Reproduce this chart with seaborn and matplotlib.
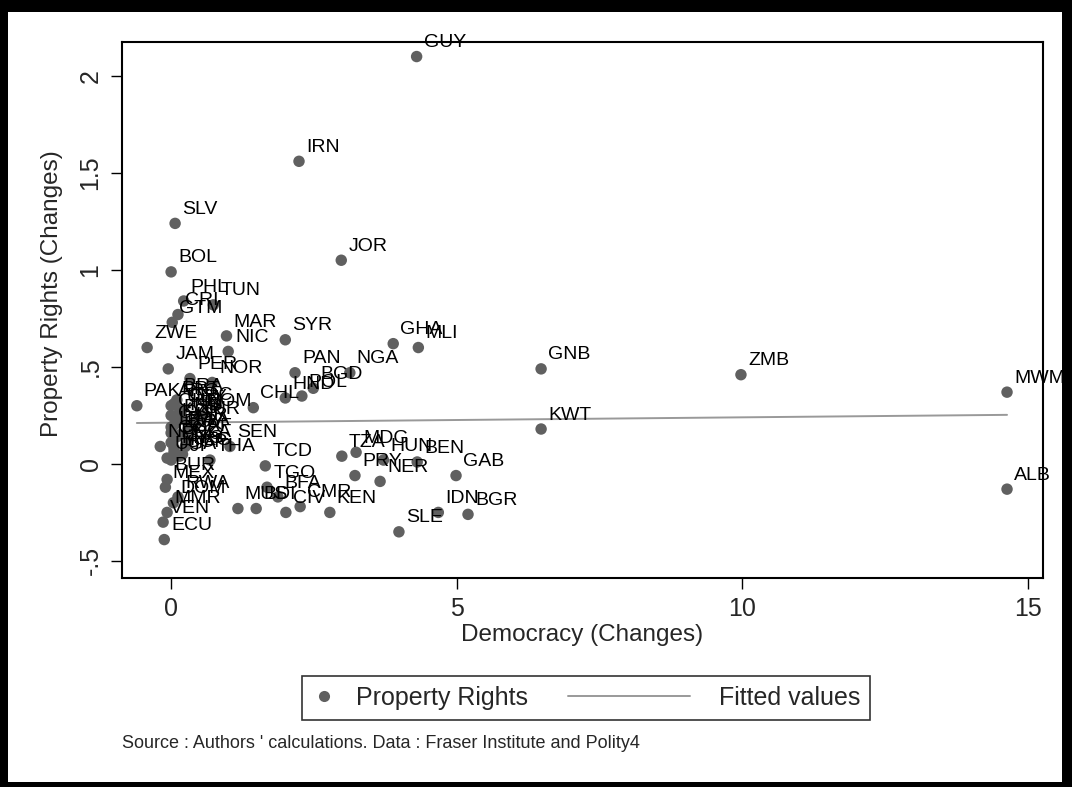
import numpy as np
import pandas as pd
import seaborn as sns
import matplotlib.pyplot as plt
from matplotlib.patches import Rectangle
from matplotlib.lines import Line2D
from matplotlib.legend_handler import HandlerBase

# country codes, democracy change (x), property rights change (y)
codes = ['GUY', 'IRN', 'SLV', 'BOL', 'JOR', 'PHL', 'TUN', 'CRI', 'GTM', 'MAR',
         'NIC', 'ZWE', 'SYR', 'GHA', 'MLI', 'JAM', 'PER', 'NOR', 'PAN', 'NGA',
         'BGD', 'HND', 'POL', 'CHL', 'PAK', 'GNB', 'KWT', 'ZMB', 'MWM', 'ALB',
         'BRA', 'ARG', 'URY', 'CHN', 'IND', 'KOR', 'ISR', 'LKA', 'EGY', 'TUR',
         'COL', 'DZA', 'MYS', 'SGP', 'FJI', 'ROM',
         'PRT', 'GRC', 'ESP', 'CYP', 'BWA', 'ZAF', 'PNG', 'HKG',
         'NPL', 'UGA', 'BUR', 'MEX', 'DOM', 'MMR', 'VEN', 'ECU', 'RWA',
         'SEN', 'THA', 'TCD', 'TGO', 'BFA', 'MUS', 'BDI', 'CIV', 'CMR', 'KEN',
         'TZA', 'MDG', 'HUN', 'BEN', 'PRY', 'NER', 'GAB', 'IDN', 'BGR', 'SLE']
democracy = [4.30, 2.24, 0.07, 0.00, 2.98, 0.22, 0.74, 0.12, 0.02, 0.97,
             1.00, -0.42, 2.00, 3.89, 4.33, -0.05, 0.33, 0.72, 2.17, 3.13,
             2.49, 2.00, 2.29, 1.44, -0.60, 6.48, 6.48, 9.98, 14.64, 14.64,
             0.10, 0.00, 0.15, 0.00, 0.20, 0.05, 0.30, 0.00, 0.10, 0.40,
             0.00, 0.25, 0.05, 0.15, 0.00, 0.50,
             0.05, 0.20, 0.10, 0.00, 0.15, 0.30, 0.05, 0.20,
             -0.19, -0.07, -0.07, -0.10, 0.04, -0.07, -0.14, -0.12, 0.12,
             1.03, 0.68, 1.65, 1.68, 1.87, 1.17, 1.49, 2.01, 2.26, 2.78,
             2.99, 3.24, 3.72, 4.31, 3.22, 3.66, 4.99, 4.68, 5.20, 3.99]
prop_rights = [2.10, 1.56, 1.24, 0.99, 1.05, 0.84, 0.82, 0.77, 0.73, 0.66,
               0.58, 0.60, 0.64, 0.62, 0.60, 0.49, 0.44, 0.42, 0.47, 0.47,
               0.39, 0.34, 0.35, 0.29, 0.30, 0.49, 0.18, 0.46, 0.37, -0.13,
               0.33, 0.30, 0.27, 0.25, 0.23, 0.20, 0.18, 0.16, 0.14, 0.21,
               0.11, 0.09, 0.06, 0.04, 0.02, 0.25,
               0.31, 0.28, 0.22, 0.19, 0.15, 0.12, 0.08, 0.05,
               0.09, 0.03, -0.08, -0.12, -0.20, -0.25, -0.30, -0.39, -0.17,
               0.09, 0.02, -0.01, -0.12, -0.17, -0.23, -0.23, -0.25, -0.22, -0.25,
               0.04, 0.06, 0.02, 0.01, -0.06, -0.09, -0.06, -0.25, -0.26, -0.35]

# fitted values (linear fit) at the ends of the data range
fit_x = [-0.60, 14.64]
fit_y = [0.211, 0.253]

x_ticks = [0, 5, 10, 15]
y_ticks = [-0.5, 0, 0.5, 1, 1.5, 2]
y_ticklabels = ['-.5', '0', '.5', '1', '1.5', '2']

df = pd.DataFrame({'code': codes, 'dem': democracy, 'prop': prop_rights})
fit = pd.DataFrame({'dem': fit_x, 'prop': fit_y})


class LongLine(HandlerBase):
    # line handle that reaches back into the column gap
    def create_artists(self, legend, orig_handle, xdescent, ydescent,
                       width, height, fontsize, trans):
        y = height / 2 - ydescent
        ln = Line2D([width - 5.3 * fontsize, width - 0.4 * fontsize], [y, y],
                    color=orig_handle.get_color(), lw=orig_handle.get_linewidth())
        ln.set_transform(trans)
        return [ln]


sns.set_style("white")
plt.rcParams['font.family'] = ['Liberation Sans', 'DejaVu Sans']

W, H = 1072, 787
fig = plt.figure(figsize=(W / 100, H / 100), dpi=100)
fig.patch.set_facecolor('black')
fig.patches.append(Rectangle((8 / W, 5 / H), 1054 / W, 770 / H,
                             transform=fig.transFigure, facecolor='white',
                             edgecolor='none', zorder=-1))

ax = fig.add_axes([122 / W, 1 - 578 / H, (1043 - 122) / W, (578 - 42) / H])
ax.set_facecolor('white')

sns.lineplot(data=fit, x='dem', y='prop', ax=ax, color='#999999', lw=1.4,
             legend=False, zorder=2)
sns.scatterplot(data=df, x='dem', y='prop', ax=ax, color='#606060', s=68,
                edgecolor='none', legend=False, zorder=3)

for c, x, y in zip(df['code'], df['dem'], df['prop']):
    ax.annotate(c, (x, y), xytext=(5, 10), textcoords='offset points',
                ha='left', va='center', fontsize=14, color='black',
                clip_on=False, zorder=4)

ax.set_xlim(-0.86, 15.27)
ax.set_ylim(-0.588, 2.175)
ax.set_xticks(x_ticks)
ax.set_yticks(y_ticks)
ax.set_yticklabels(y_ticklabels)
ax.tick_params(axis='both', direction='out', length=8, width=1, color='black',
               labelsize=18, pad=6, left=True, bottom=True)
ax.tick_params(axis='y', labelrotation=90)
for t in ax.get_yticklabels():
    t.set_va('center')
for sp in ax.spines.values():
    sp.set_color('black')
    sp.set_linewidth(1.5)

ax.set_xlabel('Democracy (Changes)', fontsize=17.5, labelpad=2)
ax.set_ylabel('Property Rights (Changes)', fontsize=17.5, labelpad=4)
ax.yaxis.set_label_coords(-0.064, 0.53)

h_pts = Line2D([], [], marker='o', ls='none', color='#606060', markersize=8,
               markeredgewidth=0)
h_fit = Line2D([], [], color='#999999', lw=1.4)
leg = fig.legend([h_pts, h_fit], ['Property Rights', 'Fitted values'],
                 loc='center', bbox_to_anchor=(586 / W, 1 - 698 / H), ncol=2,
                 fontsize=18, frameon=True, fancybox=False, edgecolor='black',
                 handlelength=1.0, handletextpad=0.75, columnspacing=5.9,
                 borderpad=0.4, handler_map={h_fit: LongLine()})
leg.get_frame().set_linewidth(1.2)

fig.text(122 / W, 1 - 743 / H,
         "Source : Authors ' calculations. Data : Fraser Institute and Polity4",
         fontsize=13, ha='left', va='center')

fig.savefig('out.png', dpi=100, facecolor=fig.get_facecolor())
